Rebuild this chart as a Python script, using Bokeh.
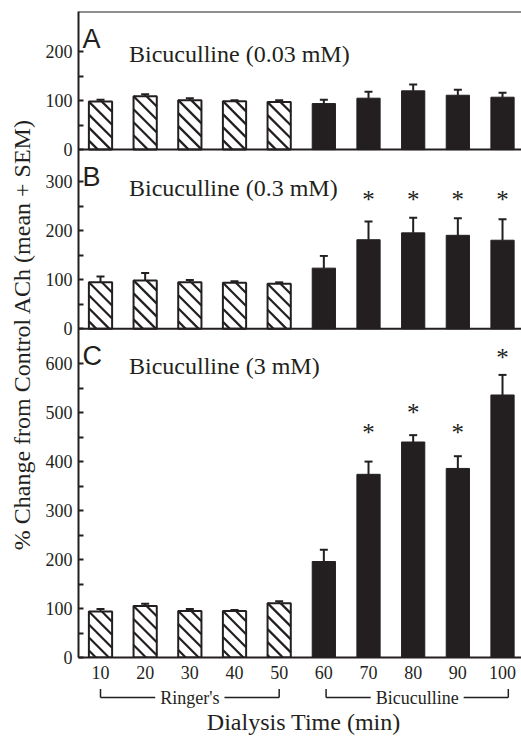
import math
from bokeh.plotting import figure
from bokeh.layouts import column
from bokeh.models import (Range1d, FixedTicker, Span, Label, Whisker, TeeHead,
                          ColumnDataSource)
from bokeh.embed import file_html
from bokeh.resources import INLINE
from bokeh.core.properties import value

# ---------------- data ----------------
times = [10, 20, 30, 40, 50, 60, 70, 80, 90, 100]
n_ringer = 5  # first five samples: Ringer's, rest: Bicuculline

a_mean = [98, 109, 101, 99, 97, 94, 105, 120, 111, 107]
a_sem = [4, 4, 4, 2, 4, 8, 13, 13, 11, 9]

b_mean = [95, 99, 95, 94, 92, 124, 182, 196, 191, 181]
b_sem = [12, 15, 5, 3, 3, 25, 37, 31, 35, 43]

c_mean = [94, 105, 95, 95, 111, 196, 374, 440, 386, 536]
c_sem = [5, 5, 4, 2, 4, 24, 26, 14, 25, 41]

b_star_x = [70, 80, 90, 100]
b_star_y = [268, 268, 268, 268]
c_star_x = [70, 80, 90, 100]
c_star_y = [463, 505, 463, 616]

panel_letters = ["A", "B", "C"]
panel_titles = ["Bicuculline (0.03 mM)", "Bicuculline (0.3 mM)", "Bicuculline (3 mM)"]
panel_max = [282, 366, 671]        # axis extent of each panel
panel_label_max = [200, 300, 600]  # last labelled tick
tick_step = 50

bracket_names = ["Ringer's", "Bicuculline"]
bracket_spans = [(10, 50), (60.5, 101.3)]

y_label = "% Change from Control ACh (mean + SEM)"
x_label = "Dialysis Time (min)"

SERIF = "Liberation Serif"
SANS = "Liberation Sans"
BLACK = "#231f20"

# ---------------- layout constants ----------------
W = 521
LEFT, TOP, BOTTOM = 78, 11, 31
MAIN_H = 688
STRIP_H = 48
X0, X1 = 5.075, 104.25
BAR_W = 5.2
HATCH_SPACING = 13   # px, vertical distance between hatch lines
frame_w = W - LEFT
frame_h = MAIN_H - TOP - BOTTOM

total = sum(panel_max)
offsets = [panel_max[1] + panel_max[2], panel_max[2], 0]  # A, B, C (bottom)
sx = frame_w / (X1 - X0)      # px per x unit
sy = frame_h / total          # px per y unit

# ---------------- main figure ----------------
p = figure(width=W, height=MAIN_H, x_range=Range1d(X0, X1),
           y_range=Range1d(0, total), output_backend="svg", toolbar_location=None,
           min_border_left=LEFT, min_border_right=0, min_border_top=TOP,
           min_border_bottom=BOTTOM, outline_line_color=None,
           background_fill_color="white", border_fill_color="white")
p.grid.visible = False

range_names = ["A", "B", "default"]
p.extra_y_ranges = {
    "A": Range1d(-offsets[0], total - offsets[0]),
    "B": Range1d(-offsets[1], total - offsets[1]),
}

means = [a_mean, b_mean, c_mean]
sems = [a_sem, b_sem, c_sem]
stars = [None, (b_star_x, b_star_y), (c_star_x, c_star_y)]


def hatch_segments(xc, top):
    """45-degree '\\' hatch lines inside a bar, returned in data units."""
    xl = xc - BAR_W / 2
    wpx, hpx = BAR_W * sx, top * sy
    x0s, y0s, x1s, y1s = [], [], [], []
    c = -HATCH_SPACING * math.ceil(wpx / HATCH_SPACING)
    while c < hpx:
        u0, u1 = max(0.0, -c), min(wpx, hpx - c)
        if u1 > u0:
            x0s.append(xl + u0 / sx); y0s.append(top - (u0 + c) / sy)
            x1s.append(xl + u1 / sx); y1s.append(top - (u1 + c) / sy)
        c += HATCH_SPACING
    return x0s, y0s, x1s, y1s


ticks = []
overrides = {}
for i in range(3):
    for v in range(0, panel_label_max[i] + 1, tick_step):
        t = offsets[i] + v
        ticks.append(t)
        overrides[t] = str(v) if v % 100 == 0 else ""

for i in range(3):
    rn = range_names[i]
    m, s = means[i], sems[i]
    upper = [a + b for a, b in zip(m, s)]
    src_h = ColumnDataSource(dict(x=times[:n_ringer], top=m[:n_ringer]))
    src_s = ColumnDataSource(dict(x=times[n_ringer:], top=m[n_ringer:]))
    # hatched (Ringer's) bars: white fill, diagonal lines, black outline
    p.vbar(x="x", top="top", bottom=0, width=BAR_W, source=src_h, y_range_name=rn,
           fill_color="white", line_color=None)
    hx0, hy0, hx1, hy1 = [], [], [], []
    for t, v in zip(times[:n_ringer], m[:n_ringer]):
        a0, b0, a1, b1 = hatch_segments(t, v)
        hx0 += a0; hy0 += b0; hx1 += a1; hy1 += b1
    p.segment(x0=hx0, y0=hy0, x1=hx1, y1=hy1, y_range_name=rn,
              line_color=BLACK, line_width=2.2, line_cap="butt")
    p.vbar(x="x", top="top", bottom=0, width=BAR_W, source=src_h, y_range_name=rn,
           fill_color=None, line_color=BLACK, line_width=2)
    # solid (Bicuculline) bars
    p.vbar(x="x", top="top", bottom=0, width=BAR_W, source=src_s, y_range_name=rn,
           fill_color=BLACK, line_color=BLACK, line_width=1)
    src_e = ColumnDataSource(dict(x=times, top=m, upper=upper))
    p.add_layout(Whisker(source=src_e, base="x", lower="top", upper="upper",
                         dimension="height", y_range_name=rn, line_color=BLACK,
                         line_width=2, lower_head=None,
                         upper_head=TeeHead(size=8, line_width=2, line_color=BLACK)))
    if stars[i] is not None:
        stx, sty = stars[i]
        p.text(x=stx, y=sty, text=["*"] * len(stx), y_range_name=rn,
               text_font=value(SERIF), text_font_size="25px", text_color=BLACK,
               text_align="center", text_baseline="middle", y_offset=2)
    if i < 2:
        p.add_layout(Span(location=0, dimension="width", y_range_name=rn,
                          line_color=BLACK, line_width=2))
    if i == 0:
        p.add_layout(Span(location=panel_max[0], dimension="width", y_range_name=rn,
                          line_color=BLACK, line_width=2))
    top = panel_max[i]
    p.add_layout(Label(x=X0, y=top, y_range_name=rn, x_offset=4, y_offset=-27,
                       text=panel_letters[i], text_font=SANS, text_font_size="27px",
                       text_color=BLACK, text_baseline="alphabetic"))
    title_off = [-42, -38, -37][i]
    p.add_layout(Label(x=X0, y=top, y_range_name=rn, x_offset=50.5,
                       y_offset=title_off, text=panel_titles[i], text_font=SERIF,
                       text_font_size="24px", text_color=BLACK, text_baseline="alphabetic"))

yax = p.yaxis[0]
yax.ticker = FixedTicker(ticks=ticks)
yax.major_label_overrides = overrides
yax.minor_tick_line_color = None
yax.major_tick_in = 5
yax.major_tick_out = 0
yax.major_tick_line_width = 2
yax.major_tick_line_color = BLACK
yax.axis_line_width = 2
yax.axis_line_color = BLACK
yax.major_label_text_font = SERIF
yax.major_label_text_font_size = "18px"
yax.major_label_text_color = BLACK
yax.major_label_standoff = 6
yax.axis_label = y_label
yax.axis_label_text_font = SERIF
yax.axis_label_text_font_size = "24px"
yax.axis_label_text_font_style = "normal"
yax.axis_label_text_color = BLACK
yax.axis_label_standoff = 8

xax = p.xaxis[0]
xax.ticker = FixedTicker(ticks=times)
xax.minor_tick_line_color = None
xax.major_tick_in = 0
xax.major_tick_out = 0
xax.axis_line_width = 2
xax.axis_line_color = BLACK
xax.major_label_text_font = SERIF
xax.major_label_text_font_size = "18px"
xax.major_label_text_color = BLACK
xax.major_label_standoff = 8

# ---------------- bottom strip: brackets + x label ----------------
q = figure(width=W, height=STRIP_H, x_range=p.x_range, y_range=Range1d(STRIP_H, 0),
           output_backend="svg", toolbar_location=None,
           min_border_left=LEFT, min_border_right=0, min_border_top=0,
           min_border_bottom=0, outline_line_color=None,
           background_fill_color="white", border_fill_color="white")
q.axis.visible = False
q.grid.visible = False

br_y, br_tick = 9, 0.5
xs0 = [a for a, b in bracket_spans]
xs1 = [b for a, b in bracket_spans]
q.segment(x0=xs0, y0=[br_y] * 2, x1=xs1, y1=[br_y] * 2, line_color=BLACK, line_width=1.5)
q.segment(x0=xs0 + xs1, y0=[br_y] * 4, x1=xs0 + xs1, y1=[br_tick] * 4,
          line_color=BLACK, line_width=1.5)
for name, (a, b) in zip(bracket_names, bracket_spans):
    q.add_layout(Label(x=(a + b) / 2, y=br_y, text=name, text_font=SERIF,
                       text_font_size="18px", text_color=BLACK, text_align="center",
                       text_baseline="middle", background_fill_color="white",
                       padding=5))
q.add_layout(Label(x=55.5, y=33, text=x_label, text_font=SERIF, text_font_size="24px",
                   text_color=BLACK, text_align="center", text_baseline="middle"))

layout = column(p, q, spacing=0)
open("out.html", "w").write(file_html(layout, INLINE))
